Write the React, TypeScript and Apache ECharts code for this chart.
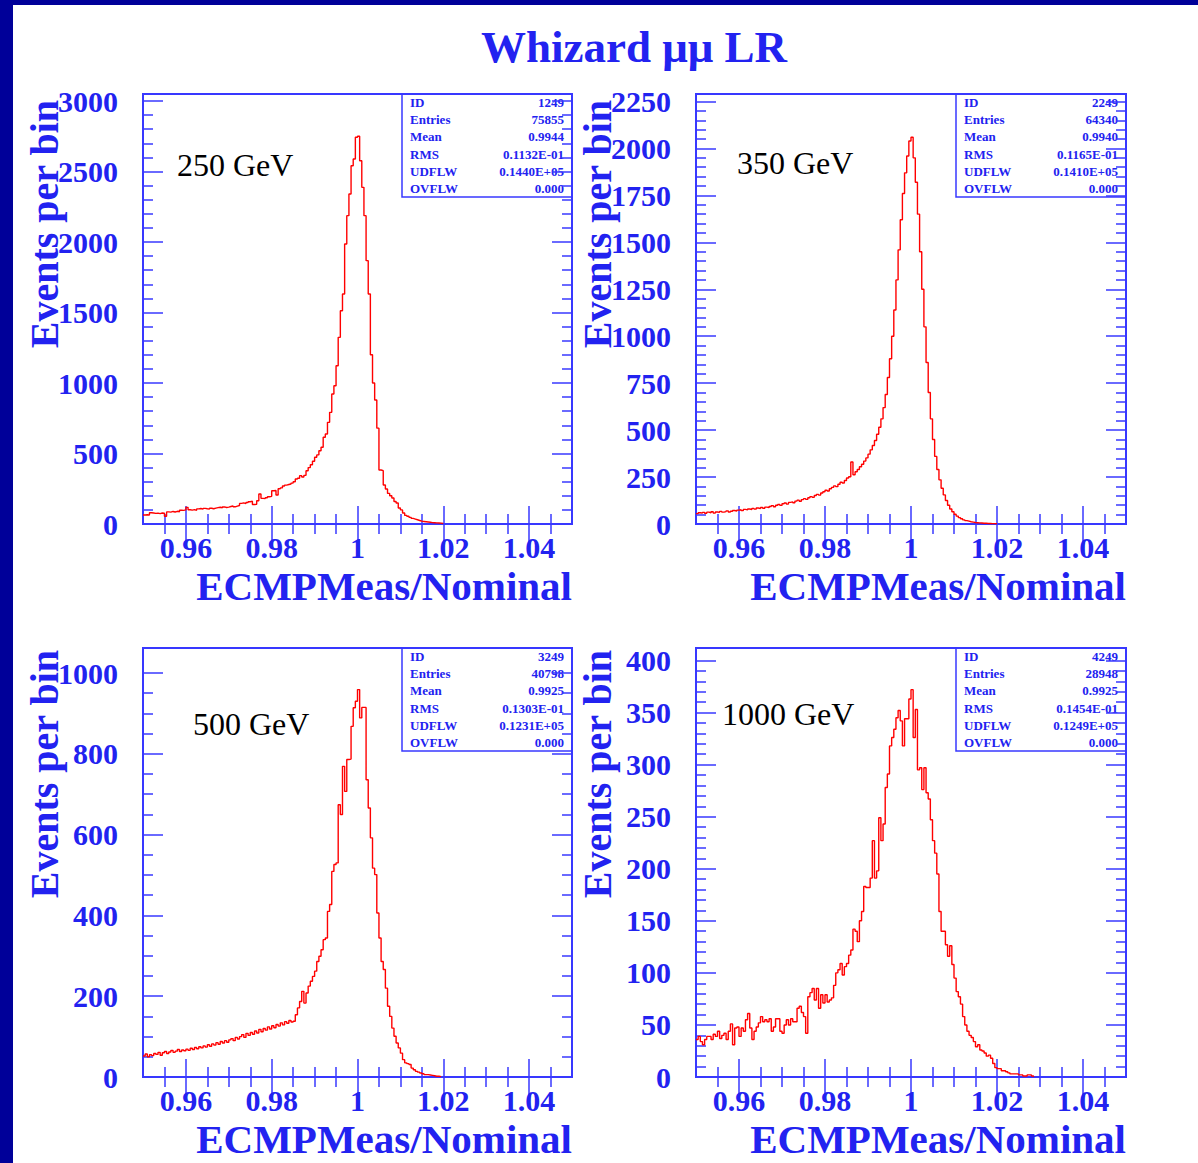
import React, { useEffect, useRef } from "react";
import * as echarts from "echarts";

// ---------------- data ----------------
const BIN_START = 0.95;
const BIN_WIDTH = 0.0005;
const X_MIN = 0.95;
const X_MAX = 1.05;

const X_TICK_LABELS = [0.96, 0.98, 1, 1.02, 1.04];
const X_MINOR_TICKS = [0.955, 0.965, 0.97, 0.975, 0.985, 0.99, 0.995, 1.005, 1.01, 1.015, 1.025, 1.03, 1.035, 1.045];

const Y_MAJOR_250 = [0, 500, 1000, 1500, 2000, 2500, 3000];
const Y_MAJOR_350 = [0, 250, 500, 750, 1000, 1250, 1500, 1750, 2000, 2250];
const Y_MAJOR_500 = [0, 200, 400, 600, 800, 1000];
const Y_MAJOR_1000 = [0, 50, 100, 150, 200, 250, 300, 350, 400];

const ENERGY_LABELS = ["250 GeV", "350 GeV", "500 GeV", "1000 GeV"];
const STAT_NAMES = ["ID", "Entries", "Mean", "RMS", "UDFLW", "OVFLW"];
const STATS_250 = ["1249", "75855", "0.9944", "0.1132E-01", "0.1440E+05", "0.000"];
const STATS_350 = ["2249", "64340", "0.9940", "0.1165E-01", "0.1410E+05", "0.000"];
const STATS_500 = ["3249", "40798", "0.9925", "0.1303E-01", "0.1231E+05", "0.000"];
const STATS_1000 = ["4249", "28948", "0.9925", "0.1454E-01", "0.1249E+05", "0.000"];

// events per bin (bin i starts at 0.95 + i*0.0005); bins after the last entry are empty
const COUNTS_250 = [
  64, 66, 63, 80, 78, 75, 77, 74, 78, 76,
  55, 86, 84, 89, 85, 90, 87, 98, 97, 100,
  118, 101, 98, 102, 97, 107, 110, 105, 111, 108,
  106, 112, 108, 113, 116, 119, 115, 121, 117, 120,
  124, 128, 122, 127, 131, 146, 150, 145, 152, 158,
  162, 138, 140, 165, 213, 182, 180, 186, 193, 196,
  236, 238, 206, 250, 256, 270, 276, 280, 284, 290,
  300, 319, 325, 343, 333, 345, 378, 400, 420, 445,
  473, 490, 520, 544, 615, 638, 721, 792, 922, 981,
  1123, 1324, 1513, 1631, 1986, 2187, 2341, 2541, 2589, 2743,
  2750, 2577, 2388, 2187, 1868, 1631, 1200, 1000, 880, 680,
  383, 378, 277, 248, 217, 200, 184, 160, 149, 113,
  100, 78, 61, 55, 47, 40, 35, 30, 25, 20,
  18, 16, 14, 12, 10, 9, 8, 7, 6, 4,
  0,
];

const COUNTS_350 = [
  55, 60, 58, 62, 57, 63, 60, 65, 58, 64,
  62, 67, 63, 66, 70, 64, 68, 72, 69, 74,
  76, 71, 78, 75, 80, 77, 83, 79, 85, 82,
  88, 84, 90, 87, 93, 98, 92, 100, 104, 99,
  108, 112, 106, 115, 118, 113, 122, 127, 121, 130,
  135, 131, 140, 146, 142, 152, 158, 154, 165, 172,
  180, 176, 188, 195, 203, 199, 212, 222, 218, 232,
  245, 252, 330, 262, 278, 290, 305, 318, 335, 352,
  372, 395, 418, 445, 478, 515, 560, 620, 690, 780,
  880, 1000, 1140, 1300, 1460, 1620, 1760, 1870, 1960, 2040,
  2060, 1950, 1820, 1650, 1450, 1250, 1050, 860, 700, 560,
  450, 360, 290, 235, 190, 155, 125, 100, 80, 65,
  52, 42, 34, 28, 22, 18, 15, 12, 10, 8,
  7, 6, 5, 4, 4, 3, 3, 2, 2, 1,
  0,
];

const COUNTS_500 = [
  52, 57, 50, 55, 53, 58, 56, 61, 54, 60,
  63, 58, 62, 66, 61, 64, 68, 63, 67, 65,
  69, 66, 71, 68, 73, 70, 75, 72, 77, 74,
  80, 76, 82, 79, 85, 81, 88, 84, 90, 86,
  92, 95, 90, 98, 94, 100, 105, 98, 108, 103,
  110, 106, 114, 109, 118, 112, 120, 116, 124, 119,
  127, 122, 130, 126, 134, 129, 137, 133, 140, 136,
  138, 154, 171, 187, 212, 183, 208, 225, 237, 249,
  262, 286, 299, 315, 340, 344, 410, 427, 509, 526,
  530, 674, 650, 769, 707, 786, 787, 868, 914, 930,
  959, 889, 915, 915, 736, 666, 592, 517, 501, 406,
  344, 286, 266, 220, 175, 150, 121, 101, 84, 72,
  59, 43, 35, 33, 31, 22, 18, 14, 12, 10,
  8, 6, 6, 5, 4, 3, 2, 2, 1, 0,
];

const COUNTS_1000 = [
  36, 39, 34, 31, 36, 39, 39, 36, 41, 39,
  44, 37, 40, 42, 36, 44, 51, 31, 47, 48,
  39, 47, 44, 55, 61, 47, 36, 44, 48, 52,
  58, 53, 55, 53, 56, 44, 48, 56, 56, 44,
  42, 50, 55, 50, 56, 53, 53, 66, 68, 62,
  58, 42, 77, 81, 85, 74, 85, 66, 79, 71,
  79, 72, 74, 76, 88, 100, 103, 109, 98, 106,
  109, 117, 122, 142, 140, 130, 150, 159, 183, 182,
  182, 191, 227, 191, 198, 249, 227, 243, 278, 291,
  318, 326, 334, 345, 352, 342, 318, 344, 344, 363,
  372, 326, 353, 295, 297, 276, 297, 273, 267, 247,
  227, 215, 195, 159, 140, 140, 127, 116, 126, 108,
  95, 82, 77, 70, 58, 50, 44, 40, 38, 34,
  29, 31, 26, 25, 23, 20, 21, 18, 13, 9,
  8, 8, 6, 6, 5, 4, 3, 3, 3, 3,
  2, 2, 1, 1, 2, 2, 1, 0,
];

const PANELS = [
  { counts: COUNTS_250, yMax: 3050, yMajor: Y_MAJOR_250, yMinorStep: 100, stats: STATS_250 },
  { counts: COUNTS_350, yMax: 2290, yMajor: Y_MAJOR_350, yMinorStep: 50, stats: STATS_350 },
  { counts: COUNTS_500, yMax: 1062, yMajor: Y_MAJOR_500, yMinorStep: 50, stats: STATS_500 },
  { counts: COUNTS_1000, yMax: 412, yMajor: Y_MAJOR_1000, yMinorStep: 10, stats: STATS_1000 },
];

// ---------------- layout / style ----------------
const W = 1198;
const H = 1163;
const GRID_RECTS = [
  { left: 143, top: 94, width: 429, height: 430 },
  { left: 696, top: 94, width: 430, height: 430 },
  { left: 143, top: 648, width: 429, height: 429 },
  { left: 696, top: 648, width: 430, height: 429 },
];
const ENERGY_POS = [
  [177, 165],
  [737, 163],
  [193, 724],
  [722, 714],
];
const YTITLE_END = [100, 100, 650, 650];

const SERIF = '"Liberation Serif", "Times New Roman", serif';
const BLUE_LINE = "#3838ff";
const BLUE_TEXT = "#2222f0";
const NAVY = "#000099";

function minorTicks(step: number, max: number, majors: number[]) {
  const out: number[] = [];
  for (let k = 1; k * step <= max + 1e-9; k++) {
    const v = Math.round(k * step * 1000) / 1000;
    if (!majors.includes(v)) out.push(v);
  }
  return out;
}

function histData(counts: number[]) {
  return counts.map((c, i) => [BIN_START + i * BIN_WIDTH, c]);
}

function buildOption() {
  const grids: any[] = [];
  const xAxes: any[] = [];
  const yAxes: any[] = [];
  const series: any[] = [];
  const graphics: any[] = [];

  const tickStyle = { color: BLUE_LINE, width: 1.5 };
  const labelStyle = {
    color: BLUE_TEXT,
    fontFamily: SERIF,
    fontWeight: "bold",
    fontSize: 30,
  };

  PANELS.forEach((p, i) => {
    const r = GRID_RECTS[i];
    grids.push({
      left: r.left,
      top: r.top,
      width: r.width,
      height: r.height,
      show: true,
      borderColor: BLUE_LINE,
      borderWidth: 2,
      backgroundColor: "rgba(0,0,0,0)",
      containLabel: false,
      outerBoundsMode: "none",
    });

    const xBase = {
      type: "value",
      gridIndex: i,
      min: X_MIN,
      max: X_MAX,
      axisLine: { show: false },
      splitLine: { show: false },
      minorTick: { show: false },
      minorSplitLine: { show: false },
    };
    xAxes.push({
      ...xBase,
      position: "bottom",
      axisTick: { show: true, inside: true, length: 18, customValues: X_TICK_LABELS, lineStyle: tickStyle },
      axisLabel: { show: true, customValues: X_TICK_LABELS, margin: 8, ...labelStyle, formatter: (v: number) => String(v) },
    });
    xAxes.push({
      ...xBase,
      position: "bottom",
      axisTick: { show: true, inside: true, length: 10, customValues: X_MINOR_TICKS, lineStyle: tickStyle },
      axisLabel: { show: false },
    });
    xAxes.push({
      ...xBase,
      position: "top",
      axisTick: { show: true, inside: true, length: 18, customValues: X_TICK_LABELS, lineStyle: tickStyle },
      axisLabel: { show: false },
    });
    xAxes.push({
      ...xBase,
      position: "top",
      axisTick: { show: true, inside: true, length: 10, customValues: X_MINOR_TICKS, lineStyle: tickStyle },
      axisLabel: { show: false },
    });

    const yMinor = minorTicks(p.yMinorStep, p.yMajor[p.yMajor.length - 1], p.yMajor);
    const yBase = {
      type: "value",
      gridIndex: i,
      min: 0,
      max: p.yMax,
      axisLine: { show: false },
      splitLine: { show: false },
      minorTick: { show: false },
      minorSplitLine: { show: false },
    };
    yAxes.push({
      ...yBase,
      position: "left",
      axisTick: { show: true, inside: true, length: 20, customValues: p.yMajor, lineStyle: tickStyle },
      axisLabel: { show: true, customValues: p.yMajor, margin: 25, ...labelStyle, formatter: (v: number) => String(v) },
    });
    yAxes.push({
      ...yBase,
      position: "left",
      axisTick: { show: true, inside: true, length: 10, customValues: yMinor, lineStyle: tickStyle },
      axisLabel: { show: false },
    });
    yAxes.push({
      ...yBase,
      position: "right",
      axisTick: { show: true, inside: true, length: 20, customValues: p.yMajor, lineStyle: tickStyle },
      axisLabel: { show: false },
    });
    yAxes.push({
      ...yBase,
      position: "right",
      axisTick: { show: true, inside: true, length: 10, customValues: yMinor, lineStyle: tickStyle },
      axisLabel: { show: false },
    });

    series.push({
      type: "line",
      name: ENERGY_LABELS[i],
      xAxisIndex: 4 * i,
      yAxisIndex: 4 * i,
      data: histData(p.counts),
      step: "end",
      showSymbol: false,
      symbol: "none",
      silent: true,
      clip: true,
      lineStyle: { color: "#ff0000", width: 1.4 },
      z: 3,
    });

    const right = r.left + r.width;
    const bottom = r.top + r.height;

    // energy label
    graphics.push({
      type: "text",
      x: ENERGY_POS[i][0],
      y: ENERGY_POS[i][1],
      style: {
        text: ENERGY_LABELS[i],
        fill: "#000000",
        fontFamily: SERIF,
        fontSize: 32,
        align: "left",
        verticalAlign: "middle",
      },
    });

    // x axis title
    graphics.push({
      type: "text",
      x: right,
      y: bottom + 62,
      style: {
        text: "ECMPMeas/Nominal",
        fill: BLUE_TEXT,
        fontFamily: SERIF,
        fontWeight: "bold",
        fontSize: 41,
        align: "right",
        verticalAlign: "middle",
      },
    });

    // y axis title
    graphics.push({
      type: "text",
      x: r.left - 99,
      y: YTITLE_END[i],
      rotation: Math.PI / 2,
      style: {
        text: "Events per bin",
        fill: BLUE_TEXT,
        fontFamily: SERIF,
        fontWeight: "bold",
        fontSize: 40,
        align: "right",
        verticalAlign: "middle",
      },
    });

    // stats box
    const boxW = 170;
    const boxH = 103;
    const boxLeft = right - boxW;
    graphics.push({
      type: "rect",
      shape: { x: boxLeft, y: r.top, width: boxW, height: boxH },
      style: { fill: "rgba(0,0,0,0)", stroke: BLUE_LINE, lineWidth: 1.5 },
      z: 1,
    });
    STAT_NAMES.forEach((name, k) => {
      const y = r.top + 8.7 + 17.1 * k;
      graphics.push({
        type: "text",
        x: boxLeft + 8,
        y,
        style: {
          text: name,
          fill: BLUE_TEXT,
          fontFamily: SERIF,
          fontWeight: "bold",
          fontSize: 13,
          align: "left",
          verticalAlign: "middle",
        },
      });
      graphics.push({
        type: "text",
        x: right - 8,
        y,
        style: {
          text: p.stats[k],
          fill: BLUE_TEXT,
          fontFamily: SERIF,
          fontWeight: "bold",
          fontSize: 13,
          align: "right",
          verticalAlign: "middle",
        },
      });
    });
  });

  // dark frame of the slide
  graphics.push({ type: "rect", shape: { x: 0, y: 0, width: 13, height: H }, style: { fill: NAVY } });
  graphics.push({ type: "rect", shape: { x: 0, y: 0, width: W, height: 5 }, style: { fill: NAVY } });

  return {
    animation: false,
    backgroundColor: "#ffffff",
    title: {
      text: "Whizard μμ LR",
      left: 481,
      top: 24,
      padding: 0,
      textStyle: {
        color: BLUE_TEXT,
        fontFamily: SERIF,
        fontWeight: "bold",
        fontSize: 45,
      },
    },
    grid: grids,
    xAxis: xAxes,
    yAxis: yAxes,
    series,
    graphic: { elements: graphics },
  };
}

export default function App() {
  const ref = useRef<HTMLDivElement>(null);
  useEffect(() => {
    if (!ref.current) return;
    const chart = echarts.init(ref.current, undefined, { renderer: "svg" });
    chart.setOption(buildOption() as any);
    return () => {
      chart.dispose();
    };
  }, []);
  return (
    <div
      ref={ref}
      style={{ position: "absolute", left: 0, top: 0, width: W, height: H, background: "#fff" }}
    />
  );
}
